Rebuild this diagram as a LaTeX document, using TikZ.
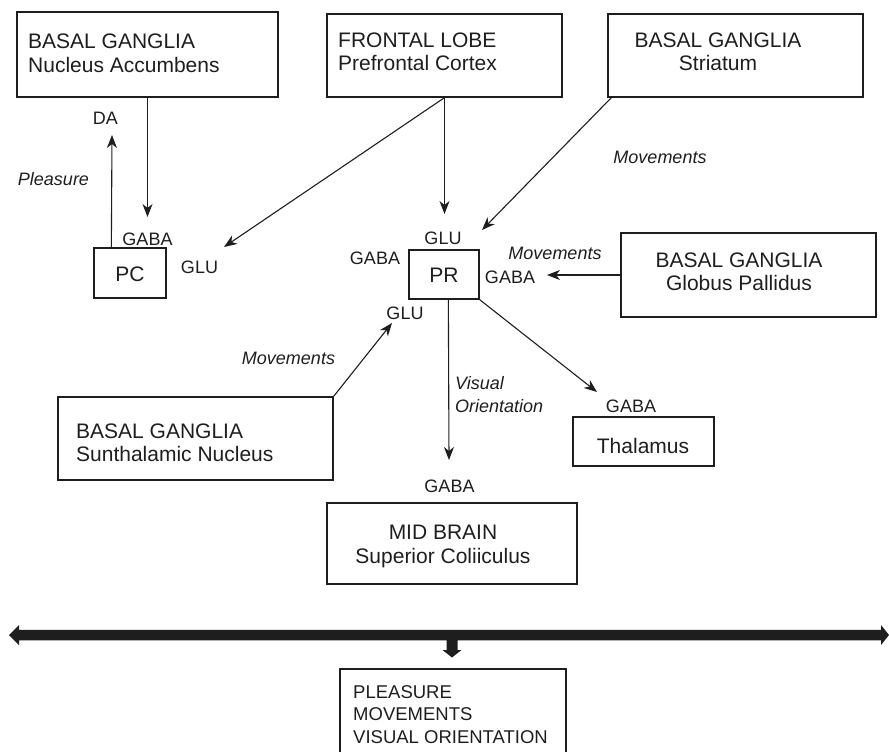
\documentclass[tikz,border=0pt]{standalone}
\usepackage{fontspec}
\setmainfont{Liberation Sans}
\usetikzlibrary{arrows.meta}
\definecolor{ink}{HTML}{1E1E1E}
\begin{document}
\begin{tikzpicture}[x=1pt,y=-1pt,
  box/.style={draw=ink, line width=1.3pt, inner sep=0pt},
  big/.style={text=ink, font=\fontsize{21}{23.5}\selectfont, inner sep=0pt},
  lab/.style={text=ink, font=\fontsize{18}{21}\selectfont, inner sep=0pt},
  ital/.style={text=ink, font=\fontsize{18}{23}\selectfont\itshape, inner sep=0pt},
  summ/.style={text=ink, font=\fontsize{18.5}{22.5}\selectfont, inner sep=0pt},
  arr/.style={draw=ink, line width=1.1pt, -{Stealth[length=13pt,width=10pt,inset=4pt]}},
  thick bar/.style={fill=ink, draw=none}
]
\useasboundingbox (0,0) rectangle (889,752);
\clip (0,0) rectangle (889,752);

% boxes
\node[box, minimum width=261pt, minimum height=85pt] (na) at (147.5,54.5) {};
\node[big, align=left, anchor=west] (nat) at (28,53.3) {BASAL GANGLIA\\Nucleus Accumbens};

\node[box, minimum width=235pt, minimum height=83pt] (fl) at (444.5,55.5) {};
\node[big, align=left, anchor=west] (flt) at (338,51.8) {FRONTAL LOBE\\Prefrontal Cortex};

\node[box, minimum width=255pt, minimum height=83pt] (st) at (735.5,55.5) {};
\node[big, align=center] (stt) at (718,51.8) {BASAL GANGLIA\\Striatum};

\node[box, minimum width=255pt, minimum height=84pt] (gp) at (748.5,275) {};
\node[big, align=center] (gpt) at (739,272) {BASAL GANGLIA\\Globus Pallidus};

\node[box, minimum width=72pt, minimum height=50pt] (pc) at (130,273) {};
\node[big] (pct) at (130,274) {PC};

\node[box, minimum width=70pt, minimum height=49pt] (pr) at (444,274.5) {};
\node[big] (prt) at (444,275.5) {PR};

\node[box, minimum width=275pt, minimum height=83pt] (stn) at (195.5,438.5) {};
\node[big, align=left, anchor=west] (stnt) at (76,442.8) {BASAL GANGLIA\\Sunthalamic Nucleus};

\node[box, minimum width=141pt, minimum height=49pt] (th) at (643.5,441.5) {};
\node[big] (tht) at (643,445.5) {Thalamus};

\node[box, minimum width=250pt, minimum height=81pt] (sc) at (452,543.5) {};
\node[big, align=center] (sct) at (443,546.5) {MID BRAIN\\Superior Coliiculus};

\node[box, minimum width=226pt, minimum height=101pt] (sum) at (453,719.5) {};
\node[summ, align=left, anchor=west] (sumt) at (353,714.5) {PLEASURE\\MOVEMENTS\\VISUAL ORIENTATION};

% labels
\node[lab] (da) at (105.5,118) {DA};
\node[ital] (plea) at (53.5,179) {Pleasure};
\node[lab] (gabapc) at (147.5,239) {GABA};
\node[lab] (glupc) at (199.5,267.5) {GLU};
\node[lab] (glupr) at (443,238) {GLU};
\node[lab] (gabaprl) at (375,258.5) {GABA};
\node[lab] (gabaprr) at (510,277.5) {GABA};
\node[ital] (movgp) at (555,253) {Movements};
\node[lab] (gluprb) at (405,313) {GLU};
\node[ital] (movstn) at (288.5,358) {Movements};
\node[ital] (movst) at (660,157) {Movements};
\node[ital, align=left, anchor=west] (vis) at (455,394.5) {Visual\\Orientation};
\node[lab] (gabath) at (631,406.5) {GABA};
\node[lab] (gabasc) at (449.5,486) {GABA};

% arrow tips
\coordinate (tna) at (147.5,217);
\coordinate (tda) at (112,135);
\coordinate (tglupc) at (224,247);
\coordinate (tflpr) at (444.5,214);
\coordinate (tstpr) at (482,230);
\coordinate (tgppr) at (547,275);
\coordinate (tstnpr) at (392,323);
\coordinate (tprsc) at (449,460);
\coordinate (tprth) at (597,392);

% connectors
\draw[arr] (na) -- (tna);
\draw[arr] ([xshift=18pt]pc.north west) -- (tda);
\draw[arr] (fl.south) -- (tglupc);
\draw[arr] (fl.south) -- (tflpr);
\draw[arr] ([xshift=4pt]st.south west) -- (tstpr);
\draw[arr] (gp.west) -- (tgppr);
\draw[arr] (stn.north east) -- (tstnpr);
\draw[arr] ([xshift=40pt]pr.south west) -- (tprsc);
\draw[arr] (pr.south east) -- (tprth);

% thick double arrow bar
\coordinate (barL) at (9,635);
\coordinate (barR) at (889,635);
\fill[thick bar] (barL) -- (19,625) -- (19,629.8) -- (881,629.8) -- (881,625)
  -- (barR) -- (881,645) -- (881,640.4) -- (457.5,640.4) -- (457.5,650)
  -- (461.5,650) -- (452,657.5) -- (442.5,650) -- (446.5,650) -- (446.5,640.4)
  -- (19,640.4) -- (19,645) -- cycle;
\end{tikzpicture}
\end{document}
